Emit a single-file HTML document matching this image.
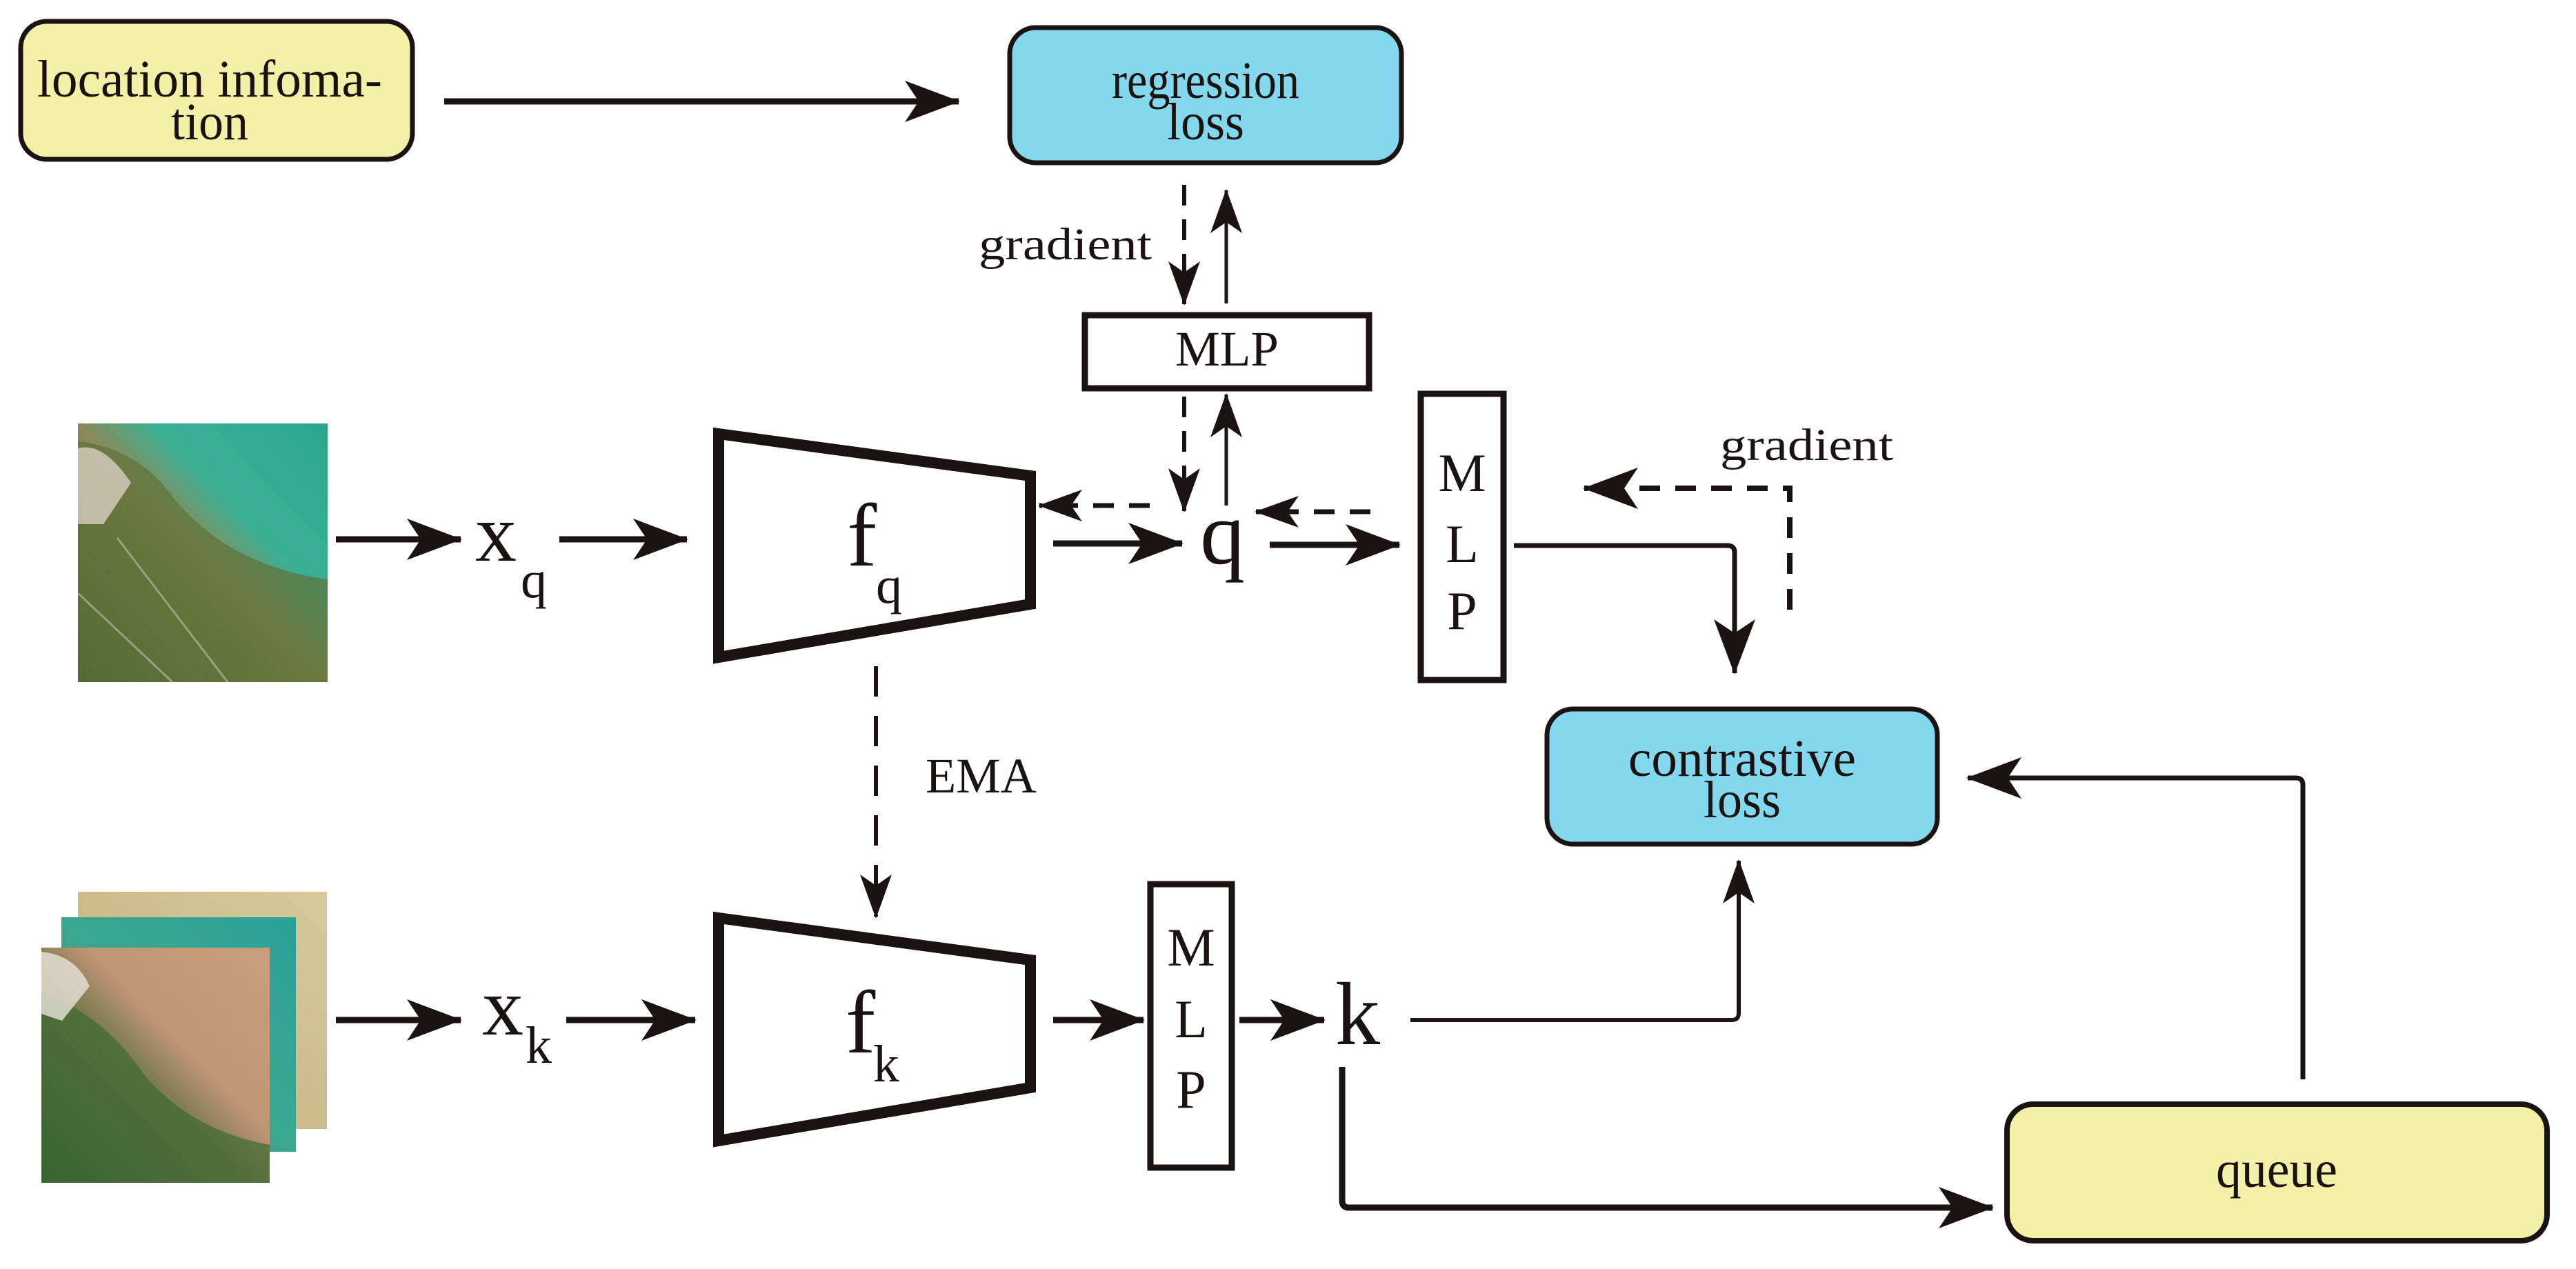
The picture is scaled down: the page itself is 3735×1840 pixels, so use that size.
<!DOCTYPE html>
<html><head><meta charset="utf-8"><style>
html,body{margin:0;padding:0;background:#fff}
svg{display:block}
text{font-family:"Liberation Serif","Times New Roman",Times,serif;fill:#1a1311}
</style></head><body>
<svg width="3735" height="1840" viewBox="0 0 3735 1840" xmlns="http://www.w3.org/2000/svg" font-family="Liberation Serif, Times New Roman, Times, serif">
<defs>
<marker id="a" markerUnits="userSpaceOnUse" markerWidth="80" markerHeight="60" refX="78" refY="30" orient="auto">
<path d="M0,0 L80,30 L0,60 L20,30 Z" fill="#1a1311"/></marker>
<marker id="s" markerUnits="userSpaceOnUse" markerWidth="64" markerHeight="46" refX="62" refY="23" orient="auto">
<path d="M0,0 L64,23 L0,46 L16,23 Z" fill="#1a1311"/></marker>
<linearGradient id="sea" x1="1" y1="0" x2="0" y2="1">
<stop offset="0" stop-color="#2aa88a"/><stop offset="0.35" stop-color="#3bb093"/><stop offset="0.5" stop-color="#8a8a5a"/><stop offset="0.65" stop-color="#6f7a45"/><stop offset="1" stop-color="#3f5a2c"/></linearGradient>
<linearGradient id="mud" x1="1" y1="0" x2="0" y2="1">
<stop offset="0" stop-color="#c79d7c"/><stop offset="0.4" stop-color="#c09675"/><stop offset="0.55" stop-color="#7a7a50"/><stop offset="1" stop-color="#2f5a2c"/></linearGradient>
<linearGradient id="teal" x1="1" y1="0" x2="0" y2="1">
<stop offset="0" stop-color="#2aa198"/><stop offset="0.5" stop-color="#3aa890"/><stop offset="1" stop-color="#5a7040"/></linearGradient>
<linearGradient id="yel" x1="1" y1="0" x2="0" y2="1">
<stop offset="0" stop-color="#d8c89a"/><stop offset="0.6" stop-color="#cbb98a"/><stop offset="1" stop-color="#6a7040"/></linearGradient>
</defs>

<!-- location information -->
<rect x="30" y="31" width="568" height="200" rx="38" fill="#f1f1a8" stroke="#1a1311" stroke-width="7"/>
<text x="304" y="140" font-size="76" text-anchor="middle" textLength="500" lengthAdjust="spacingAndGlyphs">location infoma-</text>
<text x="304" y="202" font-size="76" text-anchor="middle" textLength="112" lengthAdjust="spacingAndGlyphs">tion</text>
<path d="M644,147 H1390" stroke="#1a1311" stroke-width="9" fill="none" marker-end="url(#a)"/>

<!-- regression loss -->
<rect x="1464" y="40" width="568" height="196" rx="38" fill="#84d8ee" stroke="#1a1311" stroke-width="7"/>
<text x="1748" y="142" font-size="76" text-anchor="middle" textLength="272" lengthAdjust="spacingAndGlyphs">regression</text>
<text x="1748" y="202" font-size="76" text-anchor="middle" textLength="112" lengthAdjust="spacingAndGlyphs">loss</text>

<!-- gradient arrows to MLP top -->
<path d="M1717,268 V441" stroke="#1a1311" stroke-width="6" stroke-dasharray="30,20" fill="none"/>
<path d="M1717,400 V441" stroke="none" fill="none" marker-end="url(#s)"/>
<path d="M1778,440 V276" stroke="#1a1311" stroke-width="5" fill="none" marker-end="url(#s)"/>
<text x="1419" y="376" font-size="66" textLength="251" lengthAdjust="spacingAndGlyphs">gradient</text>

<!-- MLP horizontal -->
<rect x="1573" y="457" width="412" height="106" fill="#fff" stroke="#1a1311" stroke-width="9"/>
<text x="1779" y="530" font-size="72" text-anchor="middle" textLength="150" lengthAdjust="spacingAndGlyphs">MLP</text>

<!-- below MLP -->
<path d="M1717,575 V741" stroke="#1a1311" stroke-width="6" stroke-dasharray="30,20" fill="none"/>
<path d="M1717,700 V741" stroke="none" fill="none" marker-end="url(#s)"/>
<path d="M1778,733 V572" stroke="#1a1311" stroke-width="5" fill="none" marker-end="url(#s)"/>
<path d="M1667,733 H1507" stroke="#1a1311" stroke-width="7" stroke-dasharray="30,22" fill="none" marker-end="url(#s)"/>
<path d="M1987,742 H1821" stroke="#1a1311" stroke-width="7" stroke-dasharray="30,22" fill="none" marker-end="url(#s)"/>

<!-- image q -->
<rect x="113" y="614" width="362" height="375" fill="url(#sea)"/>
<path d="M113,640 Q200,650 250,720 Q330,820 475,840 L475,989 L113,989 Z" fill="#5f7238" opacity="0.7"/>
<path d="M113,650 Q150,640 190,700 L150,760 L113,760 Z" fill="#d8d0c0" opacity="0.8"/>
<path d="M113,860 L250,989 M170,780 L330,989" stroke="#c0c0b0" stroke-width="3" opacity="0.6"/>

<!-- q row -->
<path d="M487,782 H668" stroke="#1a1311" stroke-width="9" fill="none" marker-end="url(#a)"/>
<text x="689" y="813" font-size="120">x</text>
<text x="755" y="866" font-size="76">q</text>
<path d="M811,782 H996" stroke="#1a1311" stroke-width="9" fill="none" marker-end="url(#a)"/>
<path d="M1042,629 L1494,690 L1494,876 L1042,953 Z" fill="#fff" stroke="#1a1311" stroke-width="16" stroke-linejoin="miter"/>
<text x="1228" y="820" font-size="130">f</text>
<text x="1270" y="874" font-size="76">q</text>
<path d="M1527,788 H1714" stroke="#1a1311" stroke-width="9" fill="none" marker-end="url(#a)"/>
<text x="1740" y="817" font-size="130">q</text>
<path d="M1841,790 H2029" stroke="#1a1311" stroke-width="9" fill="none" marker-end="url(#a)"/>

<!-- MLP vertical q -->
<rect x="2060" y="571" width="120" height="415" fill="#fff" stroke="#1a1311" stroke-width="9"/>
<text x="2120" y="712" font-size="78" text-anchor="middle">M</text>
<text x="2120" y="815" font-size="78" text-anchor="middle">L</text>
<text x="2120" y="912" font-size="78" text-anchor="middle">P</text>

<path d="M2195,791 H2505 Q2515,791 2515,801 V976" stroke="#1a1311" stroke-width="7" fill="none" marker-end="url(#a)"/>
<path d="M2595,884 V708 H2297" stroke="#1a1311" stroke-width="8" stroke-dasharray="30,22" fill="none" marker-end="url(#a)"/>
<text x="2494" y="667" font-size="66" textLength="251" lengthAdjust="spacingAndGlyphs">gradient</text>

<!-- EMA -->
<path d="M1270,966 V1329" stroke="#1a1311" stroke-width="6" stroke-dasharray="44,28" fill="none"/>
<path d="M1270,1280 V1330" stroke="none" fill="none" marker-end="url(#s)"/>
<text x="1342" y="1149" font-size="72" textLength="161" lengthAdjust="spacingAndGlyphs">EMA</text>

<!-- contrastive loss -->
<rect x="2243" y="1028" width="566" height="196" rx="38" fill="#84d8ee" stroke="#1a1311" stroke-width="7"/>
<text x="2526" y="1125" font-size="76" text-anchor="middle" textLength="330" lengthAdjust="spacingAndGlyphs">contrastive</text>
<text x="2526" y="1185" font-size="76" text-anchor="middle" textLength="112" lengthAdjust="spacingAndGlyphs">loss</text>

<!-- images k -->
<rect x="113" y="1293" width="361" height="344" fill="url(#yel)"/>
<rect x="89" y="1330" width="340" height="340" fill="url(#teal)"/>
<rect x="60" y="1374" width="331" height="341" fill="url(#mud)"/>
<path d="M60,1440 Q150,1470 210,1560 Q280,1640 391,1660 L391,1715 L60,1715 Z" fill="#3f6a32" opacity="0.7"/>
<path d="M60,1380 Q110,1385 130,1430 L90,1480 L60,1470 Z" fill="#e8e4d8" opacity="0.8"/>

<!-- k row -->
<path d="M487,1479 H668" stroke="#1a1311" stroke-width="9" fill="none" marker-end="url(#a)"/>
<text x="699" y="1500" font-size="120">x</text>
<text x="762" y="1541" font-size="76">k</text>
<path d="M821,1479 H1008" stroke="#1a1311" stroke-width="9" fill="none" marker-end="url(#a)"/>
<path d="M1042,1331 L1494,1392 L1494,1577 L1042,1654 Z" fill="#fff" stroke="#1a1311" stroke-width="16"/>
<text x="1226" y="1526" font-size="130">f</text>
<text x="1266" y="1568" font-size="76">k</text>
<path d="M1527,1479 H1658" stroke="#1a1311" stroke-width="9" fill="none" marker-end="url(#a)"/>
<rect x="1668" y="1282" width="118" height="411" fill="#fff" stroke="#1a1311" stroke-width="9"/>
<text x="1727" y="1400" font-size="78" text-anchor="middle">M</text>
<text x="1727" y="1504" font-size="78" text-anchor="middle">L</text>
<text x="1727" y="1606" font-size="78" text-anchor="middle">P</text>
<path d="M1797,1479 H1920" stroke="#1a1311" stroke-width="9" fill="none" marker-end="url(#a)"/>
<text x="1936" y="1514" font-size="130">k</text>

<path d="M2045,1479 H2511 Q2521,1479 2521,1469 V1248" stroke="#1a1311" stroke-width="6" fill="none" marker-end="url(#s)"/>
<path d="M1946,1547 V1741 Q1946,1751 1956,1751 H2889" stroke="#1a1311" stroke-width="9" fill="none" marker-end="url(#a)"/>

<!-- queue -->
<rect x="2910" y="1601" width="783" height="198" rx="38" fill="#f1f1a8" stroke="#1a1311" stroke-width="8"/>
<text x="3301" y="1721" font-size="76" text-anchor="middle" textLength="176" lengthAdjust="spacingAndGlyphs">queue</text>
<path d="M3339,1565 V1138 Q3339,1128 3329,1128 H2853" stroke="#1a1311" stroke-width="7" fill="none" marker-end="url(#a)"/>
</svg>
</body></html>
